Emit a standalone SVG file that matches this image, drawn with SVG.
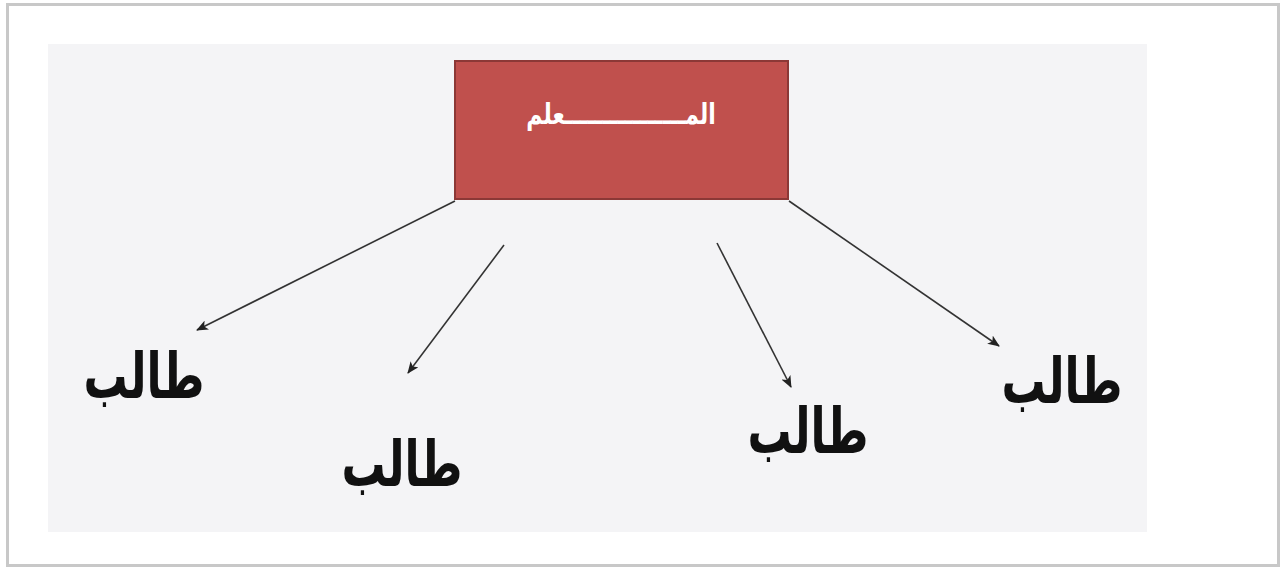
<svg xmlns="http://www.w3.org/2000/svg" width="1285" height="571" viewBox="0 0 1285 571">
<style>
.lbl{font-family:"DejaVu Sans","Liberation Sans",sans-serif;font-weight:bold;font-size:44px;fill:#111;text-anchor:middle}
.conn{stroke:#333;stroke-width:1.6;fill:none;marker-end:url(#ah)}
</style>
<defs>
<marker id="ah" markerWidth="12" markerHeight="10" refX="11" refY="5" orient="auto" markerUnits="userSpaceOnUse">
<path d="M0,0 L12,5 L0,10 L3,5 Z" fill="#222"/>
</marker>
</defs>
<rect x="0" y="0" width="1285" height="571" fill="#ffffff"/>
<rect x="7.5" y="4.5" width="1271" height="561" fill="#ffffff" stroke="#c8c8c8" stroke-width="3"/>
<rect x="48" y="44" width="1099" height="488" fill="#f4f4f6"/>
<g id="teacher">
<rect x="455" y="61" width="333" height="138" fill="#c0504d" stroke="#8c3836" stroke-width="2"/>
<text transform="translate(621,124) scale(1,1.3)" font-family="DejaVu Sans, sans-serif" font-weight="bold" font-size="22" fill="#ffffff" text-anchor="middle">المــــــــــــــــعلم</text>
</g>
<g id="connectors">
<line class="conn" x1="455" y1="201" x2="197" y2="330"/>
<line class="conn" x1="504" y1="245" x2="408" y2="373"/>
<line class="conn" x1="717" y1="243" x2="791" y2="387"/>
<line class="conn" x1="789" y1="201" x2="999" y2="346"/>
</g>
<g id="student1"><text class="lbl" transform="translate(144,398) scale(1,1.45)">طالب</text></g>
<g id="student2"><text class="lbl" transform="translate(402,486) scale(1,1.45)">طالب</text></g>
<g id="student3"><text class="lbl" transform="translate(808,453) scale(1,1.45)">طالب</text></g>
<g id="student4"><text class="lbl" transform="translate(1062,403) scale(1,1.45)">طالب</text></g>
</svg>
